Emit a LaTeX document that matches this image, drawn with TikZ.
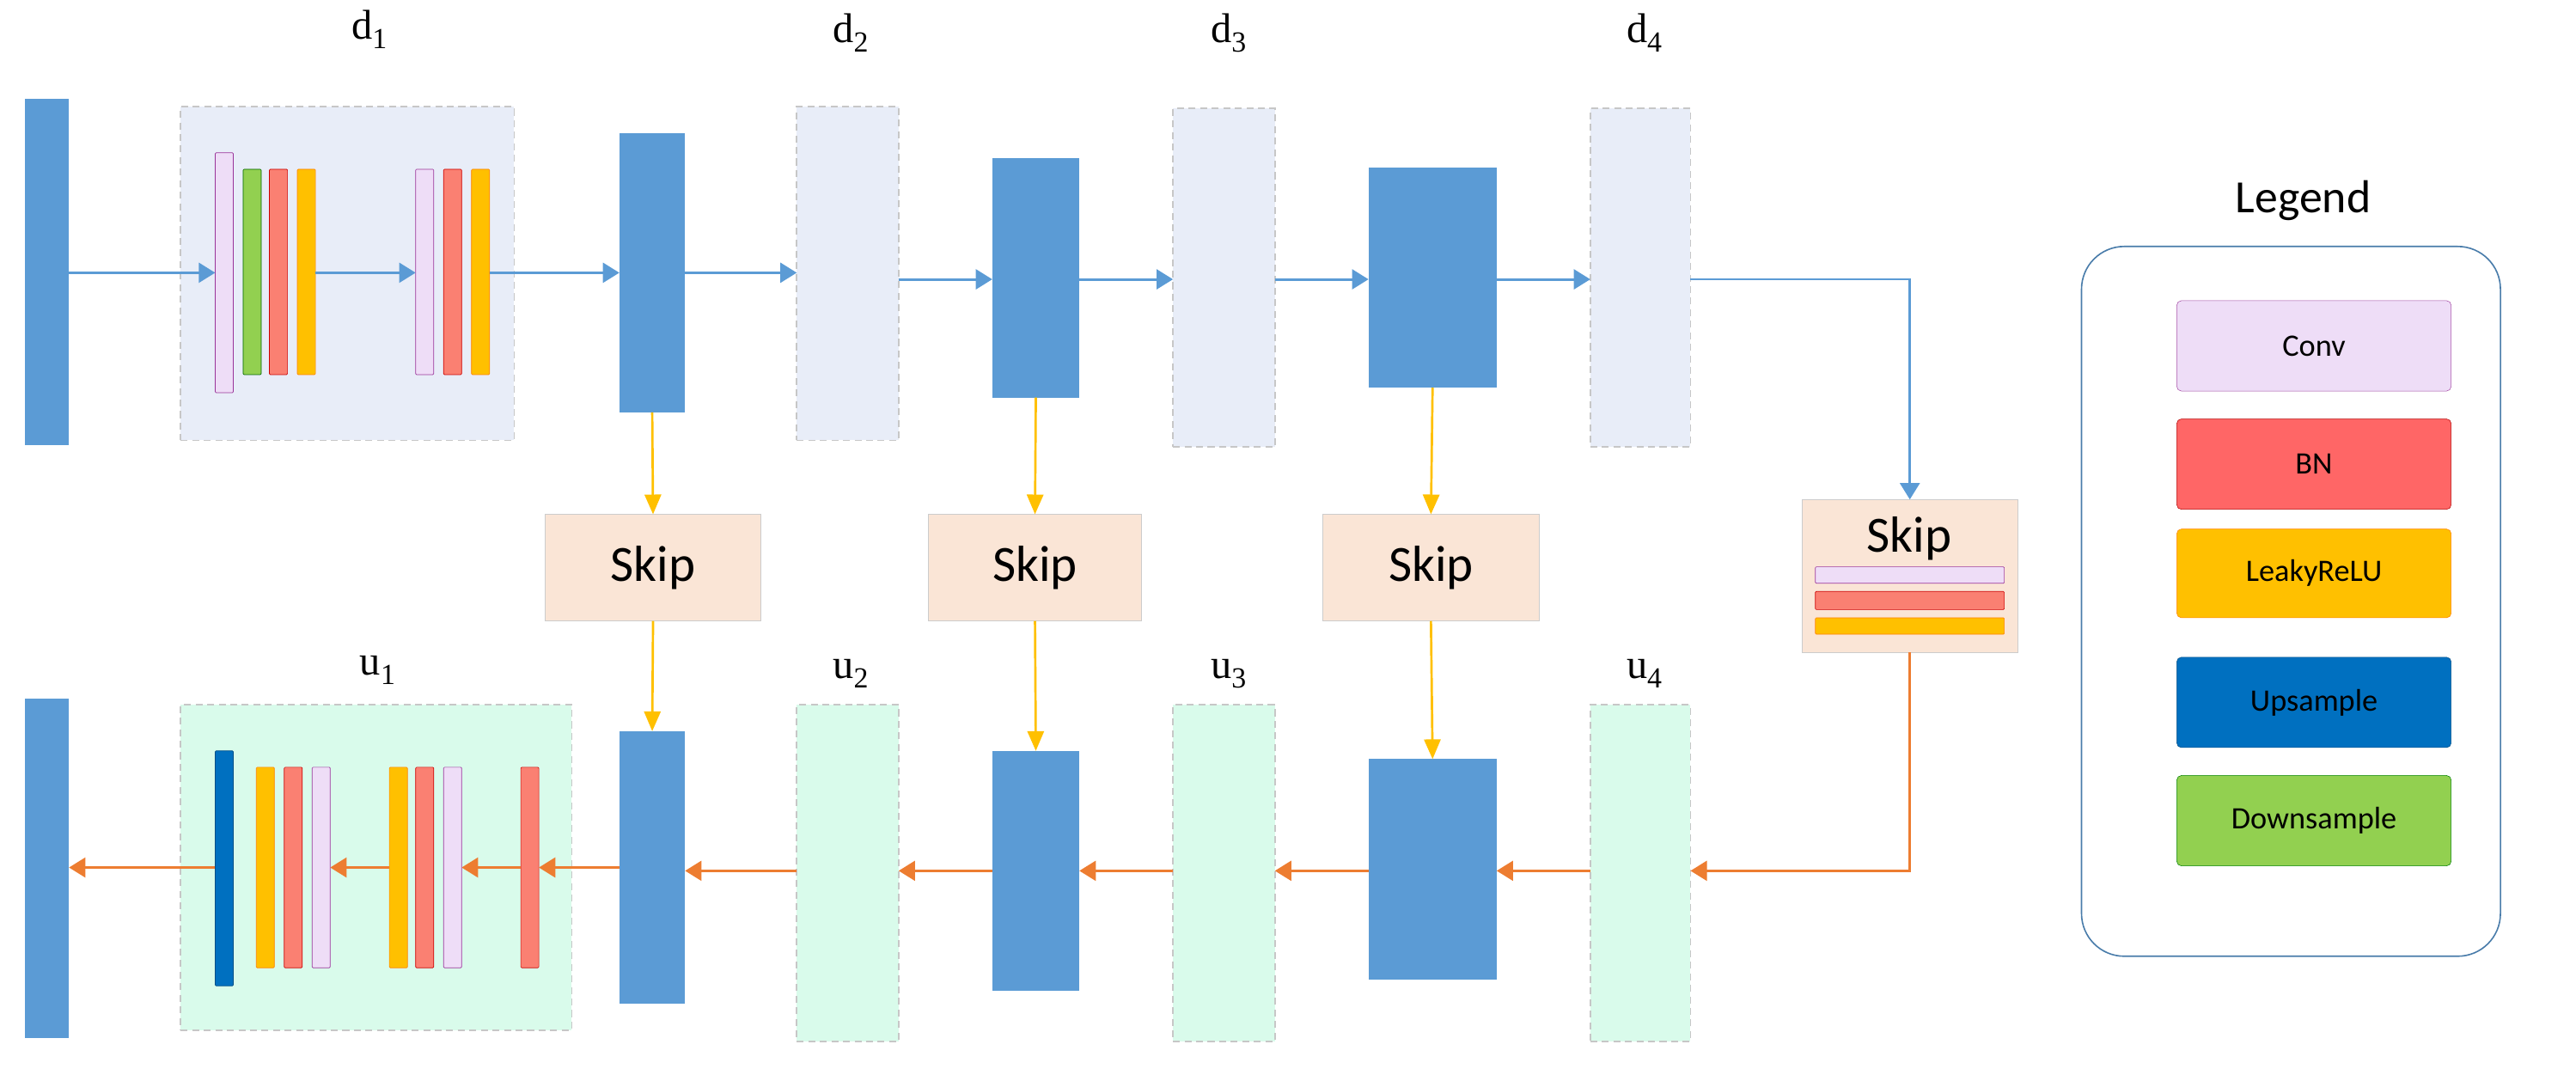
\documentclass[tikz,border=0pt]{standalone}
\usepackage{fontspec}
\setmainfont{Liberation Serif}
\newfontfamily\carl{Carlito}
\usetikzlibrary{arrows.meta}
\definecolor{cblue}{HTML}{5B9BD5}
\definecolor{dfill}{HTML}{E8EDF8}
\definecolor{ufill}{HTML}{D9FBEB}
\definecolor{sfill}{HTML}{FAE5D6}
\definecolor{corange}{HTML}{ED7D31}
\definecolor{cyel}{HTML}{FFC000}
\definecolor{cconv}{HTML}{EEDDF7}
\definecolor{cred}{HTML}{FA8072}
\definecolor{cbn}{HTML}{FF6666}
\definecolor{cup}{HTML}{0070C0}
\definecolor{cdown}{HTML}{92D050}
\newcommand\bx[6]{\node[#2, minimum width={(#5-#3)*0.05cm}, minimum height={(#6-#4)*0.05cm}] (#1) at ({(#3+#5)/2},{(#4+#6)/2}) {};}
\tikzset{
 r/.style={rectangle,inner sep=0pt,outer sep=0pt},
 bar/.style={r,fill=cblue},
 dbox/.style={r,fill=dfill,draw=black!22,line width=1.3pt,dash pattern=on 6pt off 4pt},
 ubox/.style={r,fill=ufill,draw=black!22,line width=1.3pt,dash pattern=on 6pt off 4pt},
 skip/.style={r,fill=sfill,draw=black!20,line width=0.6pt},
 conv/.style={r,fill=cconv,draw=violet!80,line width=0.5pt,rounded corners=0.8pt},
 bn/.style={r,fill=cred,draw=red!80!black,line width=0.5pt,rounded corners=0.8pt},
 ly/.style={r,fill=cyel,draw=orange,line width=0.5pt,rounded corners=0.8pt},
 gr/.style={r,fill=cdown,draw=green!40!black,line width=0.5pt,rounded corners=0.8pt},
 up/.style={r,fill=cup,draw=cup!70!black,line width=0.5pt,rounded corners=0.8pt},
 barr/.style={cblue,line width=2.2pt,-{Triangle[width=0.6cm,length=0.5cm]}},
 oarr/.style={corange,line width=2.2pt,-{Triangle[width=0.6cm,length=0.5cm]}},
 yarr/.style={cyel,line width=2pt,-{Triangle[width=0.5cm,length=0.6cm]}},
 lab/.style={font=\fontsize{36}{36}\selectfont},
 sk/.style={font=\carl\fontsize{44}{44}\selectfont},
 leg/.style={r,rounded corners=4pt,font=\carl\fontsize{27}{27}\selectfont},
}
\begin{document}
\begin{tikzpicture}[x=0.05cm,y=-0.05cm]
\useasboundingbox (0,0) rectangle (1568,654);
% top row
\bx{in}{bar}{15}{60}{42}{271}
\bx{d1}{dbox}{110}{65}{313}{268}
\bx{c1}{conv}{131}{93}{142}{239}
\bx{g1}{gr}{148}{103}{159}{228}
\bx{r1}{bn}{164}{103}{175}{228}
\bx{y1}{ly}{181}{103}{192}{228}
\bx{c2}{conv}{253}{103}{264}{228}
\bx{r2}{bn}{270}{103}{281}{228}
\bx{y2}{ly}{287}{103}{298}{228}
\bx{b1}{bar}{377}{81}{417}{251}
\bx{d2}{dbox}{485}{65}{547}{268}
\bx{b2}{bar}{604}{96}{657}{242}
\bx{d3}{dbox}{714}{66}{776}{272}
\bx{b3}{bar}{833}{102}{911}{236}
\bx{d4}{dbox}{968}{66}{1029}{272}
\node[lab] at (225,18) {d\textsubscript{1}};
\node[lab] at (518,20) {d\textsubscript{2}};
\node[lab] at (748,20) {d\textsubscript{3}};
\node[lab] at (1001,20) {d\textsubscript{4}};
\draw[barr] (in.east |- 0,166) -- (c1.west |- 0,166);
\draw[barr] (y1.east |- 0,166) -- (c2.west |- 0,166);
\draw[barr] (y2.east |- 0,166) -- (b1.west |- 0,166);
\draw[barr] (b1.east |- 0,166) -- (d2.west |- 0,166);
\draw[barr] (d2.east |- 0,170) -- (b2.west |- 0,170);
\draw[barr] (b2.east |- 0,170) -- (d3.west |- 0,170);
\draw[barr] (d3.east |- 0,170) -- (b3.west |- 0,170);
\draw[barr] (b3.east |- 0,170) -- (d4.west |- 0,170);
% skips
\bx{s1}{skip}{332}{313}{463}{378}
\bx{s2}{skip}{565}{313}{695}{378}
\bx{s3}{skip}{805}{313}{937}{378}
\bx{s4}{skip}{1097}{304}{1228}{397}
\node[sk] at (s1) {Skip};
\node[sk] at (s2) {Skip};
\node[sk] at (s3) {Skip};
\node[sk] at (1162,328) {Skip};
\bx{sc}{conv}{1105}{345}{1220}{355}
\bx{sb}{bn}{1105}{360}{1220}{371}
\bx{sy}{ly}{1105}{376}{1220}{386}
\draw[barr,line width=2pt] (d4.east |- 0,170) -| (s4.north);
% bottom row
\bx{out}{bar}{15}{425}{42}{632}
\bx{u1}{ubox}{110}{429}{348}{627}
\bx{us}{up}{131}{457}{142}{600}
\bx{uy1}{ly}{156}{467}{167}{589}
\bx{ur1}{bn}{173}{467}{184}{589}
\bx{uc1}{conv}{190}{467}{201}{589}
\bx{uy2}{ly}{237}{467}{248}{589}
\bx{ur2}{bn}{253}{467}{264}{589}
\bx{uc2}{conv}{270}{467}{281}{589}
\bx{ur3}{bn}{317}{467}{328}{589}
\bx{lb1}{bar}{377}{445}{417}{611}
\bx{u2}{ubox}{485}{429}{547}{634}
\bx{lb2}{bar}{604}{457}{657}{603}
\bx{u3}{ubox}{714}{429}{776}{634}
\bx{lb3}{bar}{833}{462}{911}{596}
\bx{u4}{ubox}{968}{429}{1029}{634}
\node[lab] at (230,408) {u\textsubscript{1}};
\node[lab] at (518,410) {u\textsubscript{2}};
\node[lab] at (748,410) {u\textsubscript{3}};
\node[lab] at (1001,410) {u\textsubscript{4}};
\draw[oarr] (s4.south) |- (u4.east |- 0,530);
\draw[oarr] (u4.west |- 0,530) -- (lb3.east |- 0,530);
\draw[oarr] (lb3.west |- 0,530) -- (u3.east |- 0,530);
\draw[oarr] (u3.west |- 0,530) -- (lb2.east |- 0,530);
\draw[oarr] (lb2.west |- 0,530) -- (u2.east |- 0,530);
\draw[oarr] (u2.west |- 0,530) -- (lb1.east |- 0,530);
\draw[oarr] (lb1.west |- 0,528) -- (ur3.east |- 0,528);
\draw[oarr] (ur3.west |- 0,528) -- (uc2.east |- 0,528);
\draw[oarr] (uy2.west |- 0,528) -- (uc1.east |- 0,528);
\draw[oarr] (us.west |- 0,528) -- (out.east |- 0,528);
% yellow
\draw[yarr] (b1.south) -- (s1.north);
\draw[yarr] (s1.south) -- (lb1.north);
\draw[yarr] (b2.south) -- (s2.north);
\draw[yarr] (s2.south) -- (lb2.north);
\draw[yarr] (b3.south) -- (s3.north);
\draw[yarr] (s3.south) -- (lb3.north);
% legend
\node[font=\carl\fontsize{40}{40}\selectfont] at (1402,122) {Legend};
\bx{lg}{r,draw=cblue!80!black,line width=1.2pt,rounded corners=1.3cm,fill=white}{1267}{150}{1522}{582}
\bx{l1}{leg,fill=cconv,draw=violet!70}{1325}{183}{1492}{238}
\bx{l2}{leg,fill=cbn,draw=red!70!black}{1325}{255}{1492}{310}
\bx{l3}{leg,fill=cyel,draw=orange}{1325}{322}{1492}{376}
\bx{l4}{leg,fill=cup,draw=cup!70!black}{1325}{400}{1492}{455}
\bx{l5}{leg,fill=cdown,draw=green!50!black}{1325}{472}{1492}{527}
\node[leg] at (l1) {Conv};
\node[leg] at (l2) {BN};
\node[leg] at (l3) {LeakyReLU};
\node[leg] at (l4) {Upsample};
\node[leg] at (l5) {Downsample};
\end{tikzpicture}
\end{document}
